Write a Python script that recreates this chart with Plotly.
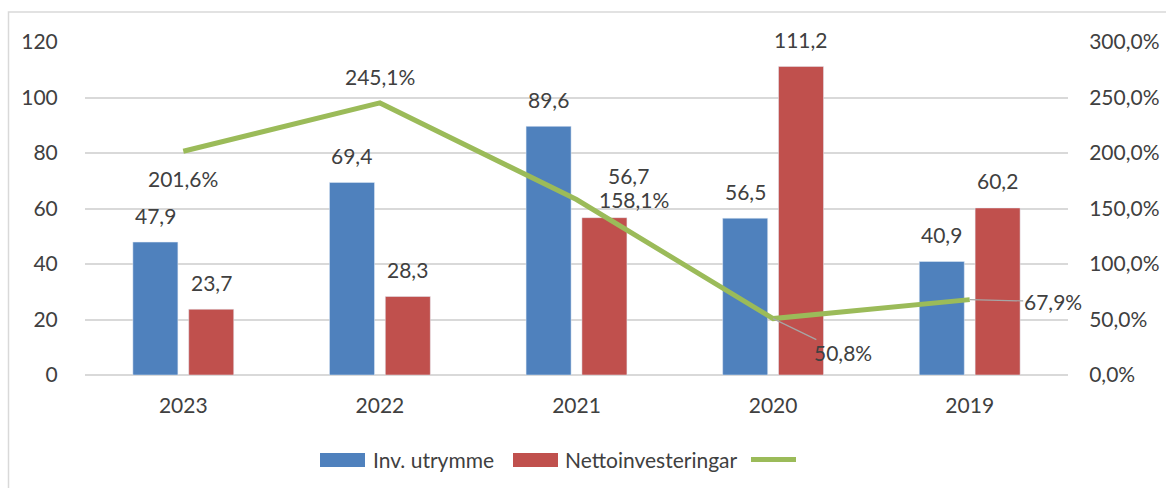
import plotly.graph_objects as go

years = ["2023", "2022", "2021", "2020", "2019"]
inv_utrymme = [47.9, 69.4, 89.6, 56.5, 40.9]
netto = [23.7, 28.3, 56.7, 111.2, 60.2]
ratio_pct = [201.6, 245.1, 158.1, 50.8, 67.9]

left_ticks = [0, 20, 40, 60, 80, 100, 120]
right_ticks = [0, 50, 100, 150, 200, 250, 300]
legend_names = ["Inv. utrymme", "Nettoinvesteringar", ""]

BLUE = "#4F81BD"
RED = "#C0504D"
GREEN = "#9BBB59"
TXT = "#404040"
GRID = "#D9D9D9"
FONT = "Lato"
FS = 21

# plot area in pixels (for paper-coordinate decorations)
L, R, T, B = 85, 1068, 42, 375
def px(x):
    return (x - L) / (R - L)
def py(y):
    return (B - y) / (B - T)

def fmt(v, suffix=""):
    return f"{v:.1f}".replace(".", ",") + suffix

fig = go.Figure()

fig.add_trace(go.Bar(x=years, y=inv_utrymme, name=legend_names[0], marker_color=BLUE,
                     width=0.229, offset=-0.2565, showlegend=False))
fig.add_trace(go.Bar(x=years, y=netto, name=legend_names[1], marker_color=RED,
                     width=0.229, offset=0.0275, showlegend=False))
fig.add_trace(go.Scatter(x=years, y=ratio_pct, yaxis="y2", mode="lines",
                         line=dict(color=GREEN, width=5), showlegend=False, name="Andel"))

ann = []
# category index positions (avoid numeric-string ambiguity on category axis)
for i, v in enumerate(inv_utrymme):
    ann.append(dict(x=i, y=v, xref="x", yref="y", text=fmt(v), showarrow=False,
                    yanchor="middle", xshift=-28, yshift=27))
red_shift = {2: (52, 42)}
for i, v in enumerate(netto):
    xs, ys = red_shift.get(i, (28, 27))
    ann.append(dict(x=i, y=v, xref="x", yref="y", text=fmt(v), showarrow=False,
                    yanchor="middle", xshift=xs, yshift=ys))

ann.append(dict(x=0, y=ratio_pct[0], xref="x", yref="y2", text=fmt(ratio_pct[0], "%"),
                showarrow=False, yanchor="middle", yshift=-27))
ann.append(dict(x=1, y=ratio_pct[1], xref="x", yref="y2", text=fmt(ratio_pct[1], "%"),
                showarrow=False, yanchor="middle", yshift=26))
ann.append(dict(x=2, y=ratio_pct[2], xref="x", yref="y2", text=fmt(ratio_pct[2], "%"),
                showarrow=False, yanchor="middle", xshift=57, yshift=0))
ann.append(dict(x=3, y=ratio_pct[3], xref="x", yref="y2", text=fmt(ratio_pct[3], "%"),
                showarrow=True, arrowhead=0, arrowwidth=1.2, arrowcolor="#A6A6A6",
                ax=70, ay=34, standoff=0, borderpad=0))
ann.append(dict(x=4, y=ratio_pct[4], xref="x", yref="y2", text=fmt(ratio_pct[4], "%"),
                showarrow=True, arrowhead=0, arrowwidth=1.2, arrowcolor="#A6A6A6",
                ax=83, ay=2, standoff=0, borderpad=0))

# manual legend text
ann.append(dict(x=px(371), y=py(460), xref="paper", yref="paper", text=legend_names[0],
                showarrow=False, xanchor="left", yanchor="middle"))
ann.append(dict(x=px(563), y=py(460), xref="paper", yref="paper", text=legend_names[1],
                showarrow=False, xanchor="left", yanchor="middle"))

for a in ann:
    a["font"] = dict(family=FONT, size=FS, color=TXT)

shapes = [
    dict(type="rect", xref="paper", yref="paper",
         x0=px(8.5), x1=px(1175), y0=py(500), y1=py(12),
         line=dict(color=GRID, width=1.5), layer="below"),
    dict(type="rect", xref="paper", yref="paper", x0=px(320), x1=px(365),
         y0=py(467), y1=py(453), fillcolor=BLUE, line=dict(width=0)),
    dict(type="rect", xref="paper", yref="paper", x0=px(513), x1=px(558),
         y0=py(467), y1=py(453), fillcolor=RED, line=dict(width=0)),
    dict(type="line", xref="paper", yref="paper", x0=px(751), x1=px(796),
         y0=py(459.5), y1=py(459.5), line=dict(color=GREEN, width=5)),
]

fig.update_layout(
    width=1166, height=488,
    margin=dict(l=L, r=1166 - R, t=T, b=488 - B, autoexpand=False),
    paper_bgcolor="white", plot_bgcolor="white",
    font=dict(family=FONT, size=FS, color=TXT),
    barmode="group",
    showlegend=False,
    annotations=ann,
    shapes=shapes,
    xaxis=dict(type="category", categoryorder="array", categoryarray=years,
               range=[-0.5, len(years) - 0.5], showgrid=False,
               showline=False, zeroline=False, ticks="outside", ticklen=12,
               tickcolor="rgba(0,0,0,0)", tickfont=dict(family=FONT, size=FS, color=TXT)),
    yaxis=dict(range=[0, 120], tickvals=left_ticks,
               ticktext=[str(v) for v in left_ticks],
               showgrid=True, gridcolor=GRID, gridwidth=1.5, zeroline=True,
               zerolinecolor=GRID, zerolinewidth=1.5, showline=False,
               ticks="outside", ticklen=22, tickcolor="rgba(0,0,0,0)",
               tickfont=dict(family=FONT, size=FS, color=TXT)),
    yaxis2=dict(range=[0, 300], tickvals=right_ticks,
                ticktext=[fmt(v, "%") for v in right_ticks],
                overlaying="y", side="right", anchor="x", showgrid=False, zeroline=False,
                showline=False,
                ticks="outside", ticklen=16, tickcolor="rgba(0,0,0,0)",
                tickfont=dict(family=FONT, size=FS, color=TXT)),
)

fig.write_html("out.html", config={"displayModeBar": False},
               post_script="document.body.style.margin='0px';document.body.style.overflow='hidden';")
